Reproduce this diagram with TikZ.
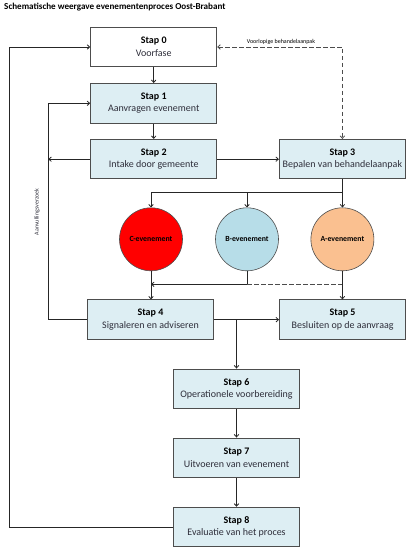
\documentclass[tikz,border=0pt]{standalone}
\usepackage{fontspec}
\setmainfont{Carlito}
\usetikzlibrary{arrows.meta,calc}
\definecolor{boxfill}{HTML}{DDEEF3}
\definecolor{boxline}{HTML}{4D4D4D}
\definecolor{cred}{HTML}{FF0000}
\definecolor{cblue}{HTML}{B7DDE8}
\definecolor{corange}{HTML}{FAC090}
\definecolor{txt}{HTML}{2E2E3A}
\tikzset{
  stepbox/.style={draw=boxline, line width=1pt, fill=boxfill, minimum width=126pt, minimum height=39.5pt, inner sep=0pt, align=center, font=\fontsize{10}{12.5}\selectfont, text=txt},
  whitebox/.style={stepbox, fill=white},
  evt/.style={circle, draw=boxline, line width=0.6pt, minimum size=63pt, inner sep=0pt, font=\bfseries\fontsize{7.8}{9}\selectfont},
  conn/.style={line width=0.8pt, draw=black!85},
  arr/.style={conn, -{Straight Barb[length=2.5pt,width=4.5pt]}},
  dashline/.style={conn, dash pattern=on 4.5pt off 2.5pt, draw=black!70},
}
\newcommand{\stp}[2]{\textbf{\color{black}Stap #1}\\#2}
\begin{document}
\begin{tikzpicture}[x=1pt,y=-1pt]
\useasboundingbox (0,0) rectangle (409,551);
\fill[white] (0,0) rectangle (409,551);
\node[anchor=west, inner sep=0pt, font=\bfseries\fontsize{9.1}{10}\selectfont] (title) at (4,7) {Schematische weergave evenementenproces Oost-Brabant};

\node[whitebox] (s0) at (153.7,47) {\stp{0}{Voorfase}};
\node[stepbox] (s1) at (153.7,103.3) {\stp{1}{Aanvragen evenement}};
\node[stepbox] (s2) at (153.7,159.2) {\stp{2}{Intake door gemeente}};
\node[stepbox] (s3) at (342.4,159.2) {\stp{3}{Bepalen van behandelaanpak}};
\node[evt, fill=cred] (c) at (151,239.3) {C-evenement};
\node[evt, fill=cblue] (b) at (247,239.3) {B-evenement};
\node[evt, fill=corange] (a) at (342.4,239.3) {A-evenement};
\node[stepbox] (s4) at (150.5,319.7) {\stp{4}{Signaleren en adviseren}};
\node[stepbox] (s5) at (342.6,319.7) {\stp{5}{Besluiten op de aanvraag}};
\node[stepbox] (s6) at (236.5,388.8) {\stp{6}{Operationele voorbereiding}};
\node[stepbox] (s7) at (236.5,457.8) {\stp{7}{Uitvoeren van evenement}};
\node[stepbox] (s8) at (236.5,527) {\stp{8}{Evaluatie van het proces}};

\coordinate (outer) at (9.3,0);
\coordinate (inner) at (48.3,0);
\coordinate (split) at (0,192.3);
\coordinate (merge) at (0,284.3);
\coordinate (j46) at (236.5,0);

% main chain
\draw[arr] (s0) -- (s1);
\draw[arr] (s1) -- (s2);
\draw[arr] (s2) -- (s3);
\draw[arr] (s2.west) -- (s2.west -| inner);
\draw[arr] (s4.west) -- (s4.west -| inner) -- (s1.west -| inner) -- (s1.west);
\draw[arr] (s8.west) -- (s8.west -| outer) -- (s0.west -| outer) -- (s0.west);
\draw[dashline, {Straight Barb[length=2.5pt,width=4.5pt]}-{Straight Barb[length=2.5pt,width=4.5pt]}] (s0.east) -- (s0.east -| s3.north) -- (s3.north);
\node[font=\fontsize{6}{7}\selectfont, inner sep=0pt] (lbl) at (281,41.7) {Voorlopige behandelaanpak};

% split to events
\draw[conn] (s3.south) -- (s3.south |- split);
\draw[conn] (c |- split) -- (s3.south |- split);
\draw[arr] (c |- split) -- (c.north);
\draw[arr] (b |- split) -- (b.north);
\draw[arr] (s3.south |- split) -- (a.north);

% merge
\draw[arr] (c.south) -- (c.south |- s4.north);
\draw[arr] (b.south) -- (b.south |- merge) -- (c.south |- merge);
\draw[dashline] (b.south |- merge) -- (a.south |- merge);
\draw[arr] (a.south) -- (a.south |- s5.north);

\draw[arr] (s4.east) -- (s4.east -| s5.west);
\draw[arr] (s4.east -| j46) -- (s6.north);
\draw[arr] (s6) -- (s7);
\draw[arr] (s7) -- (s8);

\node[rotate=90, font=\fontsize{6}{7}\selectfont, text=txt] (av) at (37,212) {Aanvullingsverzoek};
\end{tikzpicture}
\end{document}
